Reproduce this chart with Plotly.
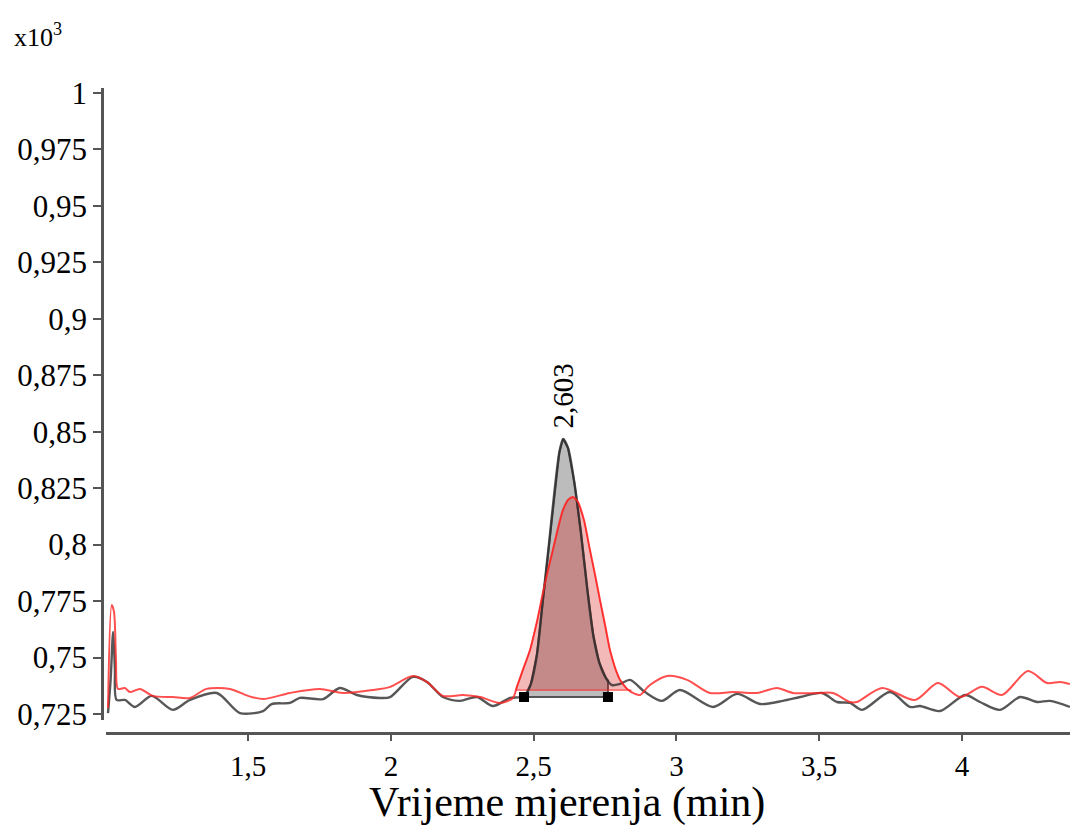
import numpy as np
import plotly.graph_objects as go

# ---- data (time in min, signal in x10^3) ----
black_x = [1.009, 1.018, 1.027, 1.033, 1.039, 1.068, 1.103, 1.162, 1.236, 1.296, 1.390, 1.471,
           1.552, 1.582, 1.646, 1.681, 1.762, 1.821, 1.881, 1.961, 1.997, 2.077, 2.126, 2.182,
           2.242, 2.301, 2.357, 2.417, 2.452, 2.473, 2.490, 2.511, 2.532, 2.553, 2.574, 2.590,
           2.603, 2.620, 2.642, 2.665, 2.688, 2.709, 2.730, 2.753, 2.774, 2.802, 2.837, 2.890,
           2.949, 3.012, 3.128, 3.212, 3.293, 3.373, 3.433, 3.510, 3.562, 3.608, 3.650, 3.748,
           3.818, 3.853, 3.923, 4.011, 4.063, 4.133, 4.203, 4.263, 4.308, 4.378]
black_y = [0.7254, 0.7401, 0.7613, 0.7454, 0.7312, 0.7312, 0.7281, 0.7330, 0.7268, 0.7312, 0.7343, 0.7254,
           0.7263, 0.7294, 0.7299, 0.7321, 0.7316, 0.7365, 0.7334, 0.7321, 0.7325, 0.7414, 0.7392, 0.7325,
           0.7308, 0.7325, 0.7285, 0.7321, 0.7325, 0.7339, 0.7383, 0.7511, 0.7755, 0.7998, 0.8251, 0.8410,
           0.8468, 0.8428, 0.8277, 0.8056, 0.7799, 0.7595, 0.7476, 0.7409, 0.7378, 0.7383, 0.7401, 0.7347,
           0.7308, 0.7356, 0.7281, 0.7339, 0.7294, 0.7308, 0.7325, 0.7343, 0.7303, 0.7299, 0.7268, 0.7347,
           0.7281, 0.7285, 0.7263, 0.7334, 0.7303, 0.7268, 0.7325, 0.7303, 0.7308, 0.7281]

red_x = [1.009, 1.022, 1.030, 1.037, 1.044, 1.068, 1.086, 1.121, 1.166, 1.236, 1.296, 1.354,
         1.436, 1.499, 1.552, 1.646, 1.751, 1.832, 1.937, 1.997, 2.077, 2.126, 2.182, 2.252,
         2.312, 2.382, 2.427, 2.441, 2.462, 2.487, 2.511, 2.532, 2.550, 2.567, 2.585, 2.602,
         2.620, 2.637, 2.655, 2.676, 2.697, 2.715, 2.732, 2.750, 2.767, 2.785, 2.802, 2.827,
         2.855, 2.872, 2.907, 2.967, 3.037, 3.117, 3.198, 3.282, 3.352, 3.408, 3.503, 3.548,
         3.608, 3.632, 3.720, 3.835, 3.916, 3.993, 4.070, 4.140, 4.231, 4.298, 4.343, 4.378]
red_y = [0.7277, 0.7733, 0.7702, 0.7489, 0.7361, 0.7365, 0.7347, 0.7361, 0.7330, 0.7325, 0.7321, 0.7361,
         0.7361, 0.7330, 0.7316, 0.7343, 0.7361, 0.7343, 0.7356, 0.7370, 0.7418, 0.7392, 0.7330, 0.7334,
         0.7325, 0.7299, 0.7321, 0.7370, 0.7445, 0.7533, 0.7657, 0.7786, 0.7888, 0.7976, 0.8074, 0.8153,
         0.8198, 0.8211, 0.8189, 0.8109, 0.7976, 0.7866, 0.7755, 0.7644, 0.7533, 0.7454, 0.7401, 0.7361,
         0.7339, 0.7334, 0.7378, 0.7418, 0.7401, 0.7343, 0.7347, 0.7343, 0.7365, 0.7343, 0.7343, 0.7343,
         0.7303, 0.7303, 0.7365, 0.7312, 0.7387, 0.7325, 0.7370, 0.7334, 0.7440, 0.7387, 0.7392, 0.7383]

# integration boundaries / baselines
black_peak_start, black_peak_end, black_baseline = 2.466, 2.760, 0.7325
red_peak_start, red_peak_end, red_baseline = 2.437, 2.840, 0.7356
peak_label_x, peak_label = 2.603, "2,603"

x_tick_vals = [1.5, 2, 2.5, 3, 3.5, 4]
x_tick_labels = ["1,5", "2", "2,5", "3", "3,5", "4"]
y_tick_vals = [0.725, 0.75, 0.775, 0.8, 0.825, 0.85, 0.875, 0.9, 0.925, 0.95, 0.975, 1.0]
y_tick_labels = ["0,725", "0,75", "0,775", "0,8", "0,825", "0,85", "0,875", "0,9", "0,925", "0,95", "0,975", "1"]

FONT = "Liberation Serif"

bx = np.array(black_x); by = np.array(black_y)
rx = np.array(red_x); ry = np.array(red_y)

def fill_poly(xs, ys, a, b, base):
    m = (xs > a) & (xs < b)
    ya = float(np.interp(a, xs, ys)); yb = float(np.interp(b, xs, ys))
    px = [a, a] + list(xs[m]) + [b, b, a]
    py = [base, ya] + list(ys[m]) + [yb, base, base]
    return px, py

fig = go.Figure()

gx, gy = fill_poly(bx, by, black_peak_start, black_peak_end, black_baseline)
fig.add_trace(go.Scatter(x=gx, y=gy, mode="lines", fill="toself",
                         fillcolor="rgb(188,188,188)", line=dict(color="rgba(70,70,70,0.9)", width=2),
                         hoverinfo="skip", showlegend=False))
rfx, rfy = fill_poly(rx, ry, red_peak_start, red_peak_end, red_baseline)
fig.add_trace(go.Scatter(x=rfx, y=rfy, mode="lines", fill="toself",
                         fillcolor="rgba(215,20,20,0.30)", line=dict(color="rgba(255,40,40,0.8)", width=1.2),
                         hoverinfo="skip", showlegend=False))

fig.add_trace(go.Scatter(x=black_x, y=black_y, mode="lines",
                         line=dict(color="rgba(45,45,45,0.8)", width=2.4, shape="spline", smoothing=0.8),
                         showlegend=False))
fig.add_trace(go.Scatter(x=red_x, y=red_y, mode="lines",
                         line=dict(color="rgba(255,35,35,0.8)", width=2, shape="spline", smoothing=0.8),
                         showlegend=False))

fig.add_trace(go.Scatter(x=[black_peak_start, black_peak_end], y=[black_baseline, black_baseline],
                         mode="markers", marker=dict(symbol="square", size=10, color="black"),
                         showlegend=False))

fig.add_annotation(x=peak_label_x, y=max(black_y), text=peak_label, textangle=-90,
                   showarrow=False, yanchor="bottom", yshift=8,
                   font=dict(family=FONT, size=29, color="black"))

fig.add_annotation(xref="paper", yref="paper", x=0.48, y=-0.1085, text="Vrijeme mjerenja (min)",
                   showarrow=False, xanchor="center", yanchor="middle",
                   font=dict(family=FONT, size=42, color="black"))
fig.add_annotation(xref="paper", yref="paper", x=-0.093, y=1.082, text="x10<sup>3</sup>",
                   showarrow=False, xanchor="left", yanchor="middle",
                   font=dict(family=FONT, size=26, color="black"))

fig.update_layout(
    width=1070, height=825,
    margin=dict(l=102, r=0, t=88, b=92),
    paper_bgcolor="white", plot_bgcolor="white",
    font=dict(family=FONT, color="black", size=28),
    xaxis=dict(range=[1.0018, 4.3783], domain=[0.0041, 1], anchor="free", position=0,
               tickvals=x_tick_vals, ticktext=x_tick_labels, ticks="outside", ticklen=6,
               tickwidth=2, tickcolor="#555", showline=True, linecolor="#555", linewidth=2.5,
               showgrid=False, zeroline=False,
               tickfont=dict(family=FONT, size=29, color="black")),
    yaxis=dict(range=[0.72234, 1.0022], domain=[0.0202, 1], anchor="free", position=0,
               tickvals=y_tick_vals, ticktext=y_tick_labels, ticks="outside", ticklen=8,
               tickwidth=2, tickcolor="#555", showline=True, linecolor="#555", linewidth=2.5,
               showgrid=False, zeroline=False,
               tickfont=dict(family=FONT, size=31, color="black")),
)

fig.write_html("out.html")
